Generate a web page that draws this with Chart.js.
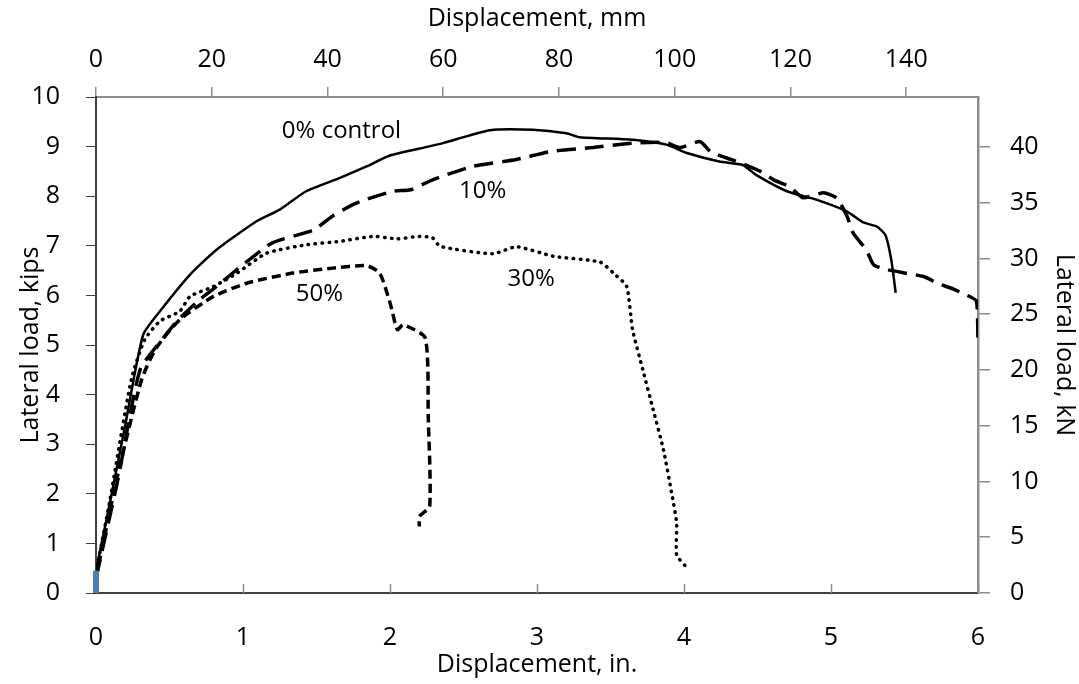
<!DOCTYPE html>
<html>
<head>
<meta charset="UTF-8" />
<title>Lateral load vs displacement</title>
<style>
  * { margin: 0; padding: 0; }
  body { background: #fff; }
  .chartBox { width: 1079px; height: 684px; }
</style>
</head>
<body>
<div class="chartBox"><canvas id="myChart" width="1079" height="684"></canvas></div>
<script src="https://cdn.jsdelivr.net/npm/chart.js@4/dist/chart.umd.min.js"></script>
<script>
  // displacement (in.) / lateral load (kips)
  const ctrlX = [0, 0.1, 0.2, 0.32, 0.435, 0.64, 0.82, 1.09, 1.25, 1.43, 1.66, 1.84, 2.0, 2.26, 2.36, 2.68, 2.97, 3.2, 3.29, 3.65, 3.88, 4.02, 4.24, 4.4, 4.49, 4.7, 4.9, 5.11, 5.22, 5.31, 5.37, 5.41, 5.44];
  const ctrlY = [0.45, 1.9, 3.4, 5.2, 5.68, 6.42, 6.92, 7.49, 7.73, 8.1, 8.37, 8.6, 8.82, 9.0, 9.07, 9.33, 9.34, 9.27, 9.19, 9.14, 9.04, 8.87, 8.7, 8.63, 8.43, 8.1, 7.93, 7.69, 7.47, 7.39, 7.22, 6.72, 6.05];

  const p10X = [0, 0.15, 0.3, 0.46, 0.55, 0.7, 0.82, 1.0, 1.2, 1.48, 1.61, 1.77, 2.02, 2.14, 2.29, 2.56, 2.86, 3.09, 3.38, 3.65, 3.88, 3.97, 4.11, 4.18, 4.29, 4.38, 4.52, 4.61, 4.72, 4.81, 4.95, 5.04, 5.11, 5.15, 5.24, 5.29, 5.38, 5.63, 5.72, 5.83, 5.92, 5.99, 6.0];
  const p10Y = [0.3, 2.3, 4.5, 5.15, 5.48, 5.9, 6.18, 6.62, 7.06, 7.32, 7.6, 7.86, 8.1, 8.13, 8.33, 8.6, 8.74, 8.9, 8.98, 9.07, 9.08, 8.98, 9.1, 8.9, 8.77, 8.68, 8.5, 8.33, 8.19, 7.97, 8.07, 7.96, 7.59, 7.26, 6.92, 6.62, 6.52, 6.38, 6.25, 6.13, 6.01, 5.88, 4.97];

  const p30X = [0, 0.095, 0.24, 0.33, 0.435, 0.57, 0.64, 0.8, 0.96, 1.16, 1.43, 1.66, 1.89, 2.05, 2.2, 2.29, 2.34, 2.7, 2.86, 3.11, 3.43, 3.52, 3.61, 3.65, 3.72, 3.79, 3.86, 3.92, 3.95, 3.95, 4.01];
  const p30Y = [0.4, 1.88, 4.3, 5.1, 5.48, 5.68, 5.98, 6.18, 6.45, 6.85, 7.02, 7.09, 7.19, 7.14, 7.19, 7.16, 6.99, 6.84, 6.98, 6.79, 6.67, 6.45, 6.18, 5.31, 4.5, 3.7, 2.89, 1.95, 1.41, 0.77, 0.54];

  const p50X = [0, 0.14, 0.31, 0.41, 0.57, 0.8, 1.03, 1.34, 1.61, 1.84, 1.93, 2.0, 2.05, 2.09, 2.24, 2.26, 2.27, 2.2, 2.2];
  const p50Y = [0.3, 2.28, 4.3, 4.94, 5.51, 5.98, 6.25, 6.45, 6.55, 6.6, 6.45, 5.85, 5.31, 5.41, 5.14, 3.56, 1.75, 1.54, 1.34];

  const originX = [0, 0];
  const originY = [0, 0.45];

  const seriesLabels = ['0% control', '10%', '30%', '50%'];
  const labelX = [1.67, 2.63, 2.96, 1.52];
  const labelY = [9.32, 8.11, 6.32, 6.02];

  const mmTicks = [0, 20, 40, 60, 80, 100, 120, 140];
  const kNTicks = [0, 5, 10, 15, 20, 25, 30, 35, 40];

  const KN_PER_KIP = 4.448;
  const MM_PER_IN = 25.4;

  const pts = (xs, ys) => xs.map((x, i) => ({ x: x, y: ys[i] }));

  const FONT = "'Open Sans', sans-serif";
  Chart.defaults.font.family = FONT;
  Chart.defaults.font.size = 25;
  Chart.defaults.color = '#000';

  const tickFont = { family: FONT, size: 25 };
  const titleFont = { family: FONT, size: 25 };

  const darkAxis = '#3f3f3f';
  const greyAxis = '#8c8c8c';

  // fixed axis sizes so the plot box sits where the original one does
  const fixW = (w) => (scale) => { scale.width = w; };
  const fixH = (h) => (scale) => { scale.height = h; };
  const useTicks = (list) => (scale) => { scale.ticks = list.map(v => ({ value: v })); };

  // bottom-axis ticks point into the plot, labels of the curves
  const extras = {
    id: 'extras',
    afterDatasetsDraw(chart) {
      const c = chart.ctx;
      const xs = chart.scales.x;
      const ys = chart.scales.y;
      const a = chart.chartArea;
      c.save();
      c.strokeStyle = greyAxis;
      c.lineWidth = 1.5;
      for (let v = 1; v <= 6; v++) {
        const px = Math.round(xs.getPixelForValue(v)) + 0.5;
        c.beginPath();
        c.moveTo(px, a.bottom);
        c.lineTo(px, a.bottom - 9);
        c.stroke();
      }
      c.fillStyle = '#000';
      c.font = '24px ' + FONT;
      c.textAlign = 'center';
      c.textBaseline = 'middle';
      seriesLabels.forEach((t, i) => {
        c.fillText(t, xs.getPixelForValue(labelX[i]), ys.getPixelForValue(labelY[i]));
      });
      c.restore();
    }
  };

  const data = {
    datasets: [
      {
        label: seriesLabels[0],
        data: pts(ctrlX, ctrlY),
        borderColor: '#000',
        borderWidth: 2.5,
        tension: 0.2
      },
      {
        label: seriesLabels[1],
        data: pts(p10X, p10Y),
        borderColor: '#000',
        borderWidth: 3.5,
        borderDash: [19, 9],
        tension: 0.2
      },
      {
        label: seriesLabels[2],
        data: pts(p30X, p30Y),
        borderColor: '#000',
        borderWidth: 3.5,
        borderDash: [0.5, 6.5],
        borderCapStyle: 'round',
        tension: 0.2
      },
      {
        label: seriesLabels[3],
        data: pts(p50X, p50Y),
        borderColor: '#000',
        borderWidth: 3.5,
        borderDash: [9, 5],
        tension: 0.2
      },
      {
        label: 'origin',
        data: pts(originX, originY),
        borderColor: '#4a7ebb',
        borderWidth: 6,
        clip: 8,
        order: -1
      }
    ]
  };

  const options = {
    responsive: false,
    animation: false,
    showLine: true,
    elements: { point: { radius: 0, hoverRadius: 0 } },
    layout: { padding: { left: 16, right: 0, top: 0, bottom: 0 } },
    plugins: { legend: { display: false }, tooltip: { enabled: false } },
    scales: {
      x: {
        type: 'linear', position: 'bottom', min: 0, max: 6,
        ticks: { stepSize: 1, padding: 22, font: tickFont },
        grid: { display: false },
        border: { color: darkAxis, width: 2 },
        title: { display: true, text: 'Displacement, in.', font: titleFont, padding: { top: 0 } },
        afterFit: fixH(91)
      },
      xTop: {
        type: 'linear', position: 'top', min: 0, max: 6 * MM_PER_IN,
        ticks: { padding: 12, font: tickFont },
        afterBuildTicks: useTicks(mmTicks),
        grid: { drawOnChartArea: false, color: greyAxis, tickLength: 10, lineWidth: 1.5 },
        border: { color: greyAxis, width: 2 },
        title: { display: true, text: 'Displacement, mm', font: titleFont, padding: { bottom: 0 } },
        afterFit: fixH(97)
      },
      y: {
        type: 'linear', position: 'left', min: 0, max: 10,
        ticks: { stepSize: 1, padding: 26, font: tickFont },
        grid: { drawOnChartArea: false, color: darkAxis, tickLength: 10, lineWidth: 1 },
        border: { color: darkAxis, width: 2 },
        title: { display: true, text: 'Lateral load, kips', font: titleFont, padding: 0 },
        afterFit: fixW(80)
      },
      yRight: {
        type: 'linear', position: 'right', min: 0, max: 10 * KN_PER_KIP,
        ticks: { padding: 20, crossAlign: 'near', font: tickFont },
        afterBuildTicks: useTicks(kNTicks),
        grid: { drawOnChartArea: false, color: greyAxis, tickLength: 12, lineWidth: 1.5 },
        border: { color: greyAxis, width: 2.5 },
        title: { display: true, text: 'Lateral load, kN', font: titleFont, padding: 0 },
        afterFit: fixW(101)
      }
    }
  };

  const myChart = new Chart(document.getElementById('myChart').getContext('2d'), {
    type: 'scatter',
    data: data,
    options: options,
    plugins: [extras]
  });
</script>
</body>
</html>
